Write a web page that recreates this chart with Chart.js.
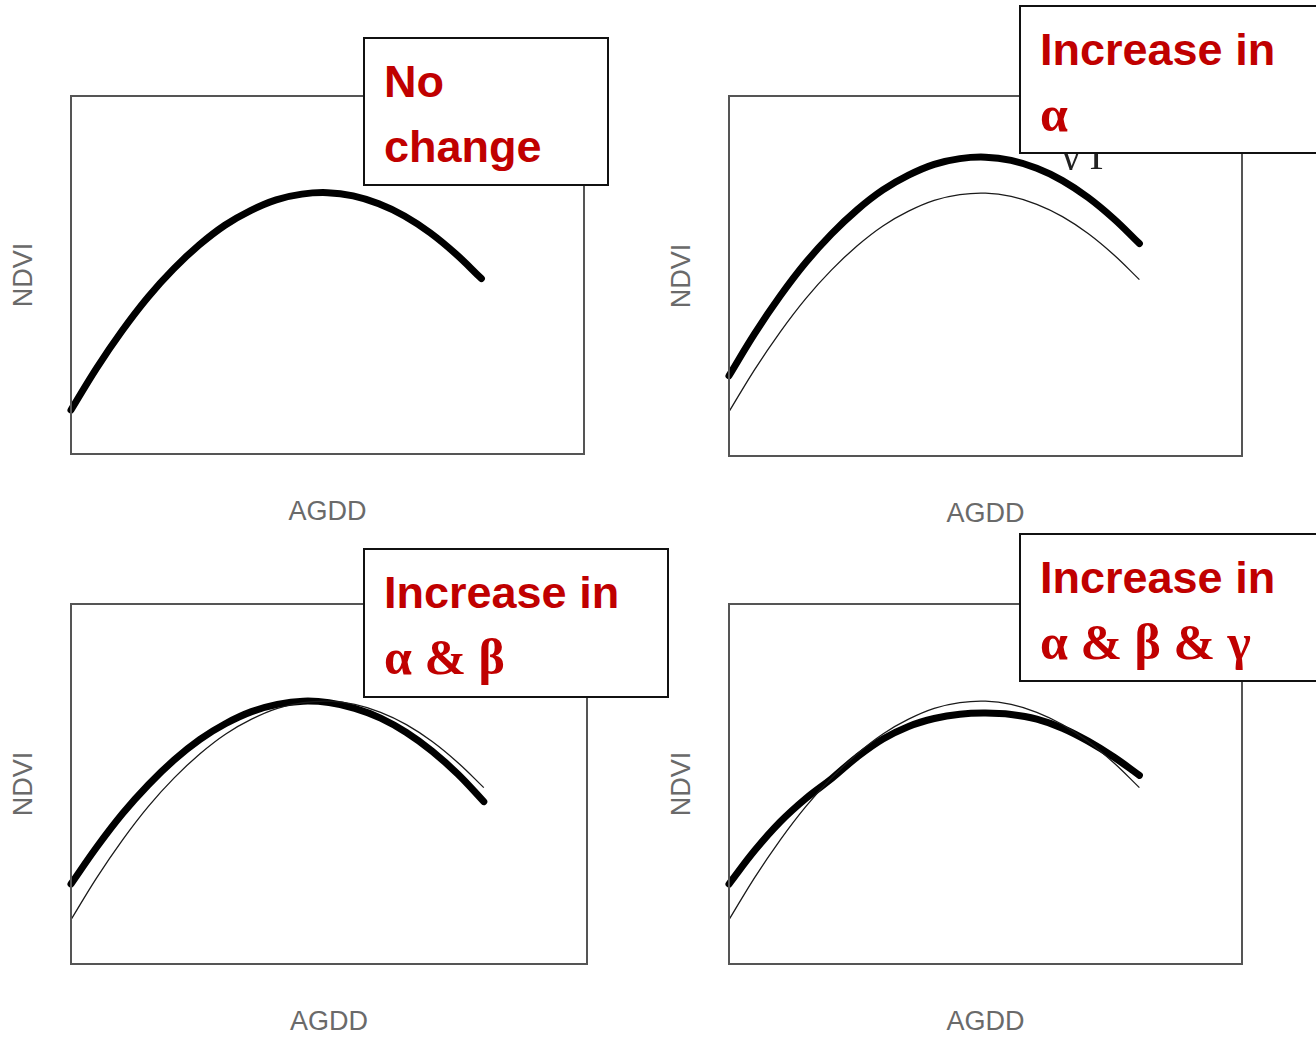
<!DOCTYPE html>
<html>
<head>
<meta charset="utf-8">
<script src="https://cdn.jsdelivr.net/npm/chart.js@4.4.1/dist/chart.umd.min.js"></script>
<style>
  html, body { margin: 0; padding: 0; background: #fff; }
  body { width: 1316px; height: 1037px; position: relative; overflow: hidden; }
  canvas { position: absolute; }
  .axis { position: absolute; font-family: "Liberation Sans", Arial, sans-serif; font-size: 27px; color: #6a6a6a; white-space: nowrap; line-height: 1; }
  .ylab { transform: translate(-50%, -50%) rotate(-90deg); }
  .xlab { transform: translate(-50%, -50%); }
  .note { position: absolute; background: #fff; border: 2px solid #111; box-sizing: border-box; z-index: 5; }
  .note span { position: absolute; color: #c00000; white-space: nowrap; line-height: 45px; }
  .t { font-family: "Liberation Sans", Arial, sans-serif; font-weight: bold; font-size: 45px; }
  .g { font-family: "Liberation Serif", "DejaVu Serif", serif; font-weight: bold; font-size: 50px; }
  .stray { position: absolute; overflow: hidden; z-index: 2; }
  .stray span { position: absolute; font-family: "Liberation Serif", serif; font-size: 40px; color: #222; line-height: 40px; letter-spacing: 10px; }
</style>
</head>
<body>
<script>
// AGDD positions (percent of the x range) and NDVI (percent of the y range)
const agdd = [0, 5, 10, 15, 20, 25, 30, 35, 40, 45, 50, 55, 60, 65, 70, 75, 80];
const ndviBase = [12.3, 24.0, 34.5, 43.8, 51.7, 58.4, 63.9, 68.0, 71.0, 72.6, 73.0, 72.1, 69.9, 66.5, 61.8, 55.9, 49.0];
const ndviAlpha = [22.3, 34.0, 44.5, 53.8, 61.7, 68.4, 73.9, 78.0, 81.0, 82.6, 83.0, 82.1, 79.9, 76.5, 71.8, 65.9, 59.0];
const ndviAlphaBeta = [22.2, 32.5, 41.8, 49.8, 56.7, 62.4, 66.8, 70.1, 72.1, 73.0, 72.6, 71.0, 68.3, 64.3, 59.1, 52.7, 45.1];
const ndviAll = [22.2, 31.5, 39.5, 46.0, 51.5, 57.5, 62.5, 66.0, 68.2, 69.4, 69.7, 69.3, 68.0, 65.5, 61.9, 57.5, 52.4];

const xTitle = 'AGDD';
const yTitle = 'NDVI';

const panels = [
  { box: [71, 96, 513, 358], thick: ndviBase, thin: null,
    note: { x: 363, y: 37, w: 246, h: 149, lines: [['t', 'No'], ['t', 'change']] } },
  { box: [729, 96, 513, 360], thick: ndviAlpha, thin: ndviBase,
    note: { x: 1019, y: 5, w: 320, h: 149, lines: [['t', 'Increase in'], ['g', 'α']] } },
  { box: [71, 604, 516, 360], thick: ndviAlphaBeta, thin: ndviBase,
    note: { x: 363, y: 548, w: 306, h: 150, lines: [['t', 'Increase in'], ['g', 'α &amp; β']] } },
  { box: [729, 604, 513, 360], thick: ndviAll, thin: ndviBase,
    note: { x: 1019, y: 533, w: 320, h: 149, lines: [['t', 'Increase in'], ['g', 'α &amp; β &amp; γ']] } }
];

const framePlugin = {
  id: 'frame',
  afterDraw(chart) {
    const { ctx, chartArea: a } = chart;
    ctx.save();
    ctx.strokeStyle = '#555';
    ctx.lineWidth = 2;
    ctx.strokeRect(a.left, a.top, a.right - a.left, a.bottom - a.top);
    ctx.restore();
  }
};

function toPoints(ys) {
  return agdd.map((x, i) => ({ x: x, y: ys[i] }));
}

function addText(cls, text, x, y) {
  const el = document.createElement('div');
  el.className = 'axis ' + cls;
  el.textContent = text;
  el.style.left = x + 'px';
  el.style.top = y + 'px';
  document.body.appendChild(el);
}

function addNote(n) {
  const box = document.createElement('div');
  box.className = 'note';
  box.style.left = n.x + 'px';
  box.style.top = n.y + 'px';
  box.style.width = n.w + 'px';
  box.style.height = n.h + 'px';
  n.lines.forEach((ln, i) => {
    const s = document.createElement('span');
    s.className = ln[0];
    s.innerHTML = ln[1];
    s.style.left = '19px';
    s.style.top = (20 + i * 65) + 'px';
    box.appendChild(s);
  });
  document.body.appendChild(box);
}

const pad = 12;
panels.forEach(p => {
  const [L, T, W, H] = p.box;
  const canvas = document.createElement('canvas');
  canvas.width = W + pad * 2;
  canvas.height = H + pad * 2;
  canvas.style.left = (L - pad) + 'px';
  canvas.style.top = (T - pad) + 'px';
  document.body.appendChild(canvas);

  const datasets = [];
  if (p.thin) {
    datasets.push({ data: toPoints(p.thin), borderColor: '#1a1a1a', borderWidth: 1.3, pointRadius: 0, tension: 0.4, clip: false });
  }
  datasets.push({ data: toPoints(p.thick), borderColor: '#000', borderWidth: 7, borderCapStyle: 'round', pointRadius: 0, tension: 0.4, clip: false });

  new Chart(canvas.getContext('2d'), {
    type: 'line',
    data: { datasets },
    options: {
      responsive: false,
      animation: false,
      layout: { padding: pad },
      plugins: { legend: { display: false }, tooltip: { enabled: false } },
      scales: {
        x: { type: 'linear', min: 0, max: 100, display: false },
        y: { type: 'linear', min: 0, max: 100, display: false }
      }
    },
    plugins: [framePlugin]
  });

  addText('ylab', yTitle, L - 48, T + H / 2);
  addText('xlab', xTitle, L + W / 2, T + H + 57);
  addNote(p.note);
});

// bits of formula text peeking out under the second note box
const stray = document.createElement('div');
stray.className = 'stray';
stray.style.left = '1058px';
stray.style.top = '152px';
stray.style.width = '100px';
stray.style.height = '18px';
stray.innerHTML = '<span style="left:4px;top:-16px">γΓ</span>';
document.body.appendChild(stray);
</script>
</body>
</html>
